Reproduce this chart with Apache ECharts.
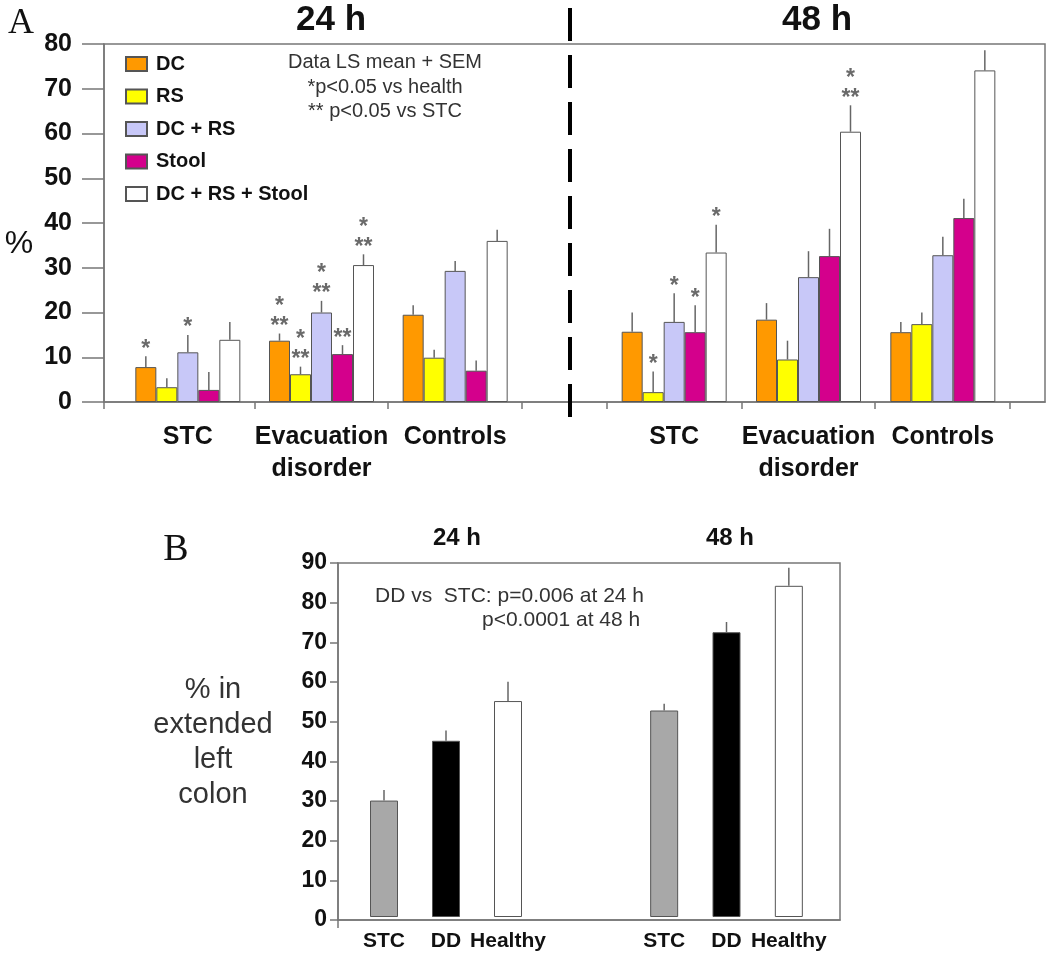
<!DOCTYPE html>
<html>
<head>
<meta charset="utf-8">
<script src="https://cdn.jsdelivr.net/npm/echarts@6/dist/echarts.min.js"></script>
<style>
  html, body { margin: 0; padding: 0; background: #fff; }
  #chart { width: 1050px; height: 957px; }
</style>
</head>
<body>
<div id="chart"></div>
<script>
// ---- panel A: transit by segment ----
const groupsA = ['STC', 'Evacuation\ndisorder', 'Controls'];
const seriesA = ['DC', 'RS', 'DC + RS', 'Stool', 'DC + RS + Stool'];
// LS mean, one row per series, one column per group
const mean24 = [
  [7.8, 13.7, 19.5],
  [3.3, 6.2, 9.9],
  [11.1, 20.0, 29.3],
  [2.7, 10.7, 7.0],
  [13.9, 30.6, 36.0]
];
const sem24 = [
  [2.4, 1.6, 2.1],
  [2.0, 1.7, 1.8],
  [3.9, 2.6, 2.2],
  [4.0, 2.0, 2.3],
  [4.0, 2.4, 2.5]
];
const sig24 = [
  ['*', '*\n**', ''],
  ['', '*\n**', ''],
  ['*', '*\n**', ''],
  ['', '**', ''],
  ['', '*\n**', '']
];
const mean48 = [
  [15.7, 18.4, 15.6],
  [2.2, 9.5, 17.4],
  [17.9, 27.9, 32.8],
  [15.6, 32.6, 41.1],
  [33.4, 60.4, 74.1]
];
const sem48 = [
  [4.3, 3.7, 2.3],
  [4.6, 4.2, 2.6],
  [6.4, 5.8, 4.1],
  [6.0, 6.1, 4.3],
  [6.2, 5.9, 4.5]
];
const sig48 = [
  ['', '', ''],
  ['*', '', ''],
  ['*', '', ''],
  ['*', '', ''],
  ['*', '*\n**', '']
];

// ---- panel B: % in extended left colon ----
const groupsB = ['STC', 'DD', 'Healthy'];
const meanB24 = [29.6, 44.8, 54.9];
const semB24 = [2.7, 2.6, 4.9];
const meanB48 = [52.5, 72.4, 84.2];
const semB48 = [1.7, 2.6, 4.6];

const colorsA = ['#ff9900', '#ffff00', '#c8c8f8', '#d4008c', '#ffffff'];
const colorsB = ['#a8a8a8', '#000000', '#ffffff'];
const FONT = '"Liberation Sans", Arial, sans-serif';
const SERIF = '"Liberation Serif", "DejaVu Serif", serif';
const AXIS = '#777';
const BAR_A = 21;
const BAR_B = 28;

// error bar (+ SEM) with significance stars on top
function errorBar(sigs, offset) {
  return function (params, api) {
    const i = api.value(0);
    const p0 = api.coord([i, api.value(1)]);
    const p1 = api.coord([i, api.value(1) + api.value(2)]);
    const x = p0[0] + offset;
    const children = [{
      type: 'line',
      shape: { x1: x, y1: p0[1], x2: x, y2: p1[1] },
      style: { stroke: '#666', lineWidth: 1.5 }
    }];
    const t = sigs ? sigs[params.dataIndex] : '';
    if (t) {
      children.push({
        type: 'text',
        x: x,
        y: p1[1] + 3,
        style: {
          text: t, fill: '#6a6a6a', font: 'bold 23px ' + FONT,
          textAlign: 'center', textVerticalAlign: 'bottom', lineHeight: 20
        }
      });
    }
    return { type: 'group', children: children };
  };
}

const hiddenY = (max, idx) => ({
  type: 'value', gridIndex: idx, min: 0, max: max,
  show: false, splitLine: { show: false }
});
const catX = (data, idx, fontSize, margin) => ({
  type: 'category', gridIndex: idx, data: data,
  axisLine: { show: false }, axisTick: { show: false },
  axisLabel: {
    color: '#111', fontWeight: 'bold', fontSize: fontSize, fontFamily: FONT,
    margin: margin, lineHeight: 32, interval: 0
  }
});

const series = [];
[[mean24, sem24, sig24, 1], [mean48, sem48, sig48, 2]].forEach(([mean, sem, sig, ax]) => {
  seriesA.forEach((name, s) => {
    series.push({
      name: name, type: 'bar', xAxisIndex: ax, yAxisIndex: ax,
      barWidth: BAR_A, barGap: '0%',
      itemStyle: { color: colorsA[s], borderColor: '#555', borderWidth: 1 },
      data: mean[s]
    });
  });
  seriesA.forEach((name, s) => {
    series.push({
      type: 'custom', xAxisIndex: ax, yAxisIndex: ax, z: 3,
      renderItem: errorBar(sig[s], (s - 2) * BAR_A),
      data: mean[s].map((v, i) => [i, v, sem[s][i]])
    });
  });
});
[[meanB24, semB24, 4], [meanB48, semB48, 5]].forEach(([mean, sem, ax]) => {
  series.push({
    type: 'bar', xAxisIndex: ax, yAxisIndex: ax, barWidth: BAR_B,
    data: mean.map((v, i) => ({
      value: v,
      itemStyle: { color: colorsB[i], borderColor: '#555', borderWidth: 1 }
    }))
  });
  series.push({
    type: 'custom', xAxisIndex: ax, yAxisIndex: ax, z: 3,
    renderItem: errorBar(null, 0),
    data: mean.map((v, i) => [i, v, sem[i]])
  });
});

const txt = (text, x, y, font, extra) => ({
  type: 'text', x: x, y: y, silent: true,
  style: Object.assign({
    text: text, font: font, fill: '#111',
    textAlign: 'center', textVerticalAlign: 'middle'
  }, extra || {})
});

const option = {
  backgroundColor: '#fff',
  animation: false,
  grid: [
    { left: 104, top: 44, width: 941, height: 358, show: true, borderColor: AXIS, borderWidth: 1.5 },
    { left: 121, top: 44, width: 401, height: 358 },
    { left: 607, top: 44, width: 403, height: 358 },
    { left: 338, top: 563, width: 502, height: 357, show: true, borderColor: AXIS, borderWidth: 1.5 },
    { left: 353, top: 563, width: 186, height: 357 },
    { left: 633, top: 563, width: 187, height: 357 }
  ],
  xAxis: [
    {
      type: 'value', gridIndex: 0, min: 0, max: 941,
      axisLine: { show: true, lineStyle: { color: AXIS, width: 1.5 } },
      axisTick: { show: true, length: 7, lineStyle: { color: AXIS, width: 1.5 },
        customValues: [0, 151, 284, 418, 503, 638, 771, 906] },
      axisLabel: { show: false }, splitLine: { show: false }
    },
    catX(groupsA, 1, 25, 19),
    catX(groupsA, 2, 25, 19),
    {
      type: 'value', gridIndex: 3, min: 0, max: 502,
      axisLine: { show: true, lineStyle: { color: AXIS, width: 1.5 } },
      axisTick: { show: true, length: 8, lineStyle: { color: AXIS, width: 1.5 }, customValues: [0] },
      axisLabel: { show: false }, splitLine: { show: false }
    },
    catX(groupsB, 4, 21, 8),
    catX(groupsB, 5, 21, 8)
  ],
  yAxis: [
    {
      type: 'value', gridIndex: 0, min: 0, max: 80, interval: 10,
      axisLine: { show: true, lineStyle: { color: AXIS, width: 1.5 } },
      axisTick: { show: true, length: 22, lineStyle: { color: AXIS, width: 1.5 } },
      axisLabel: { color: '#111', fontWeight: 'bold', fontSize: 25, fontFamily: FONT, margin: 32 },
      splitLine: { show: false }
    },
    hiddenY(80, 1),
    hiddenY(80, 2),
    {
      type: 'value', gridIndex: 3, min: 0, max: 90, interval: 10,
      axisLine: { show: true, lineStyle: { color: AXIS, width: 1.5 } },
      axisTick: { show: true, length: 8, lineStyle: { color: AXIS, width: 1.5 } },
      axisLabel: { color: '#111', fontWeight: 'bold', fontSize: 23, fontFamily: FONT, margin: 11 },
      splitLine: { show: false }
    },
    hiddenY(90, 4),
    hiddenY(90, 5)
  ],
  legend: {
    data: seriesA, orient: 'vertical', left: 120, top: 49,
    itemWidth: 21, itemHeight: 14, itemGap: 12.5, icon: 'rect',
    selectedMode: false,
    textStyle: { color: '#111', fontSize: 20, fontWeight: 'bold', fontFamily: FONT, padding: [0, 0, 0, 4] }
  },
  graphic: [
    { type: 'line', silent: true, z: 10,
      shape: { x1: 570, y1: 8, x2: 570, y2: 430 },
      style: { stroke: '#000', lineWidth: 4, lineDash: [33, 14] } },
    txt('A', 21, 24, '36px ' + SERIF),
    txt('24 h', 331, 20, 'bold 35px ' + FONT),
    txt('48 h', 817, 20, 'bold 35px ' + FONT),
    txt('%', 19, 244, '32px ' + FONT),
    txt('Data LS mean + SEM\n*p<0.05 vs health\n** p<0.05 vs STC', 385, 87, '20px ' + FONT,
      { fill: '#333', lineHeight: 24.5 }),
    txt('B', 176, 550, '38px ' + SERIF),
    txt('24 h', 457, 538, 'bold 24px ' + FONT),
    txt('48 h', 730, 538, 'bold 24px ' + FONT),
    txt('% in\nextended\nleft\ncolon', 213, 742, '29px ' + FONT, { fill: '#333', lineHeight: 35 }),
    txt('DD vs  STC: p=0.006 at 24 h', 375, 596, '21px ' + FONT, { fill: '#333', textAlign: 'left' }),
    txt('p<0.0001 at 48 h', 482, 620, '21px ' + FONT, { fill: '#333', textAlign: 'left' })
  ],
  series: series
};

const chart = echarts.init(document.getElementById('chart'), null, { renderer: 'canvas' });
chart.setOption(option);
</script>
</body>
</html>
